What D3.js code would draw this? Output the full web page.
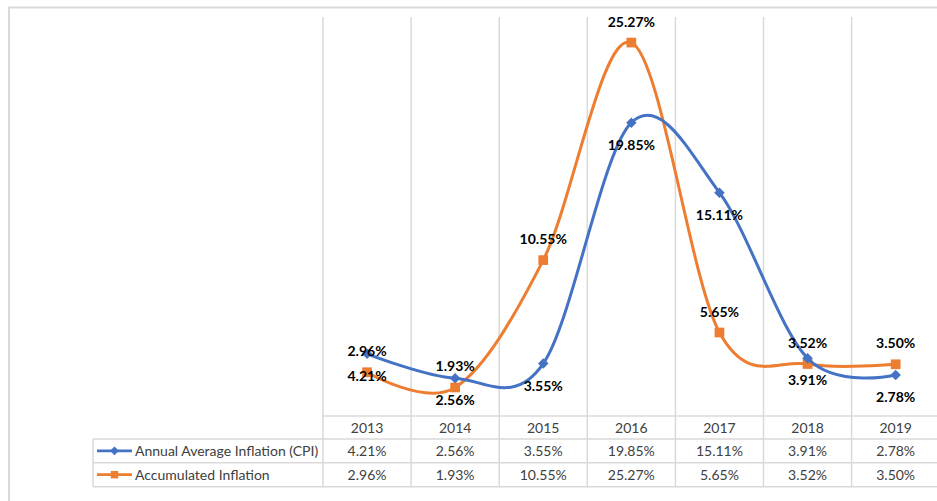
<!DOCTYPE html>
<html>
<head>
<meta charset="utf-8">
<script src="https://cdn.jsdelivr.net/npm/d3@7"></script>
<style>
  body { margin: 0; background: #fff; }
  svg { display: block; font-family: Lato, "Open Sans", sans-serif; }
</style>
</head>
<body>
<svg id="chart"></svg>
<script>
var years = ['2013', '2014', '2015', '2016', '2017', '2018', '2019']
var cpi = [4.21, 2.56, 3.55, 19.85, 15.11, 3.91, 2.78]
var accumulated = [2.96, 1.93, 10.55, 25.27, 5.65, 3.52, 3.50]
var seriesNames = ['Annual Average Inflation (CPI)', 'Accumulated Inflation']
var seriesColors = ['#4472C4', '#ED7D31']

var width = 937, height = 501
var svg = d3.select('#chart').attr('width', width).attr('height', height)

// outer chart border
svg.append('rect')
    .attr('x', 9).attr('y', 7.5)
    .attr('width', 940).attr('height', 510)
    .attr('fill', 'none').attr('stroke', '#d9d9d9').attr('stroke-width', 2)

var plotLeft = 323, plotTop = 17, zeroY = 416
var band = 88.1
var x = d3.scaleBand().domain(years).range([plotLeft, plotLeft + band * years.length])
var y = d3.scaleLinear().domain([0, 27]).range([zeroY, plotTop])

var rowY = [416, 439, 462.7, 486.7]
var tableLeft = 93
var gridColor = '#d9d9d9'

// vertical grid lines (plot + table columns)
svg.selectAll('.vgrid')
    .data(years.concat(['end']))
    .enter().append('line')
    .attr('class', 'vgrid')
    .attr('x1', function(d, i) { return plotLeft + band * i })
    .attr('x2', function(d, i) { return plotLeft + band * i })
    .attr('y1', plotTop).attr('y2', rowY[3])
    .attr('stroke', gridColor).attr('stroke-width', 1.5)

// table horizontal lines
svg.append('line').attr('x1', plotLeft).attr('x2', width).attr('y1', rowY[0]).attr('y2', rowY[0])
    .attr('stroke', gridColor).attr('stroke-width', 1.5)
svg.selectAll('.hrow')
    .data(rowY.slice(1))
    .enter().append('line')
    .attr('class', 'hrow')
    .attr('x1', tableLeft).attr('x2', width)
    .attr('y1', function(d) { return d }).attr('y2', function(d) { return d })
    .attr('stroke', gridColor).attr('stroke-width', 1.5)
svg.append('line').attr('x1', tableLeft).attr('x2', tableLeft).attr('y1', rowY[1]).attr('y2', rowY[3])
    .attr('stroke', gridColor).attr('stroke-width', 1.5)

// year header
svg.selectAll('.yr')
    .data(years)
    .enter().append('text')
    .attr('x', function(d) { return x(d) + x.bandwidth() / 2 })
    .attr('y', 432.5)
    .attr('text-anchor', 'middle')
    .attr('font-size', 14).attr('fill', '#404040')
    .text(function(d) { return d })

var table = [cpi, accumulated]
table.forEach(function(vals, r) {
    var cy = (rowY[r + 1] + rowY[r + 2]) / 2
    svg.selectAll('.cell' + r)
        .data(vals)
        .enter().append('text')
        .attr('x', function(d, i) { return x(years[i]) + x.bandwidth() / 2 })
        .attr('y', cy + 5)
        .attr('text-anchor', 'middle')
        .attr('font-size', 14).attr('fill', '#404040')
        .text(function(d) { return d.toFixed(2) + '%' })

    // legend key
    svg.append('line')
        .attr('x1', 97).attr('x2', 132).attr('y1', cy).attr('y2', cy)
        .attr('stroke', seriesColors[r]).attr('stroke-width', 2.75)
    svg.append('path')
        .attr('transform', 'translate(114.5,' + cy + ')')
        .attr('d', d3.symbol().type(r == 0 ? d3.symbolDiamond2 : d3.symbolSquare2).size(r == 0 ? 50 : 70)())
        .attr('fill', seriesColors[r])
    svg.append('text')
        .attr('x', 135).attr('y', cy + 5)
        .attr('font-size', 14).attr('fill', '#404040')
        .text(seriesNames[r])
})

var line = d3.line()
    .x(function(d, i) { return x(years[i]) + x.bandwidth() / 2 })
    .y(function(d) { return y(d) })
    .curve(d3.curveCardinal.tension(0))

var series = [
    { vals: accumulated, color: seriesColors[1], shape: d3.symbolSquare2, size: 120, dy: -16 },
    { vals: cpi, color: seriesColors[0], shape: d3.symbolDiamond2, size: 70, dy: 27 }
]

series.forEach(function(s) {
    svg.append('path')
        .datum(s.vals)
        .attr('d', line)
        .attr('fill', 'none')
        .attr('stroke', s.color)
        .attr('stroke-width', 3)
    svg.selectAll(null)
        .data(s.vals)
        .enter().append('path')
        .attr('transform', function(d, i) {
            return 'translate(' + (x(years[i]) + x.bandwidth() / 2) + ',' + y(d) + ')'
        })
        .attr('d', d3.symbol().type(s.shape).size(s.size)())
        .attr('fill', s.color)
})

// data labels on top
series.forEach(function(s) {
    svg.selectAll(null)
        .data(s.vals)
        .enter().append('text')
        .attr('x', function(d, i) { return x(years[i]) + x.bandwidth() / 2 })
        .attr('y', function(d) { return y(d) + s.dy })
        .attr('text-anchor', 'middle')
        .attr('font-size', 14).attr('font-weight', 'bold').attr('fill', '#000')
        .text(function(d) { return d.toFixed(2) + '%' })
})
</script>
</body>
</html>
